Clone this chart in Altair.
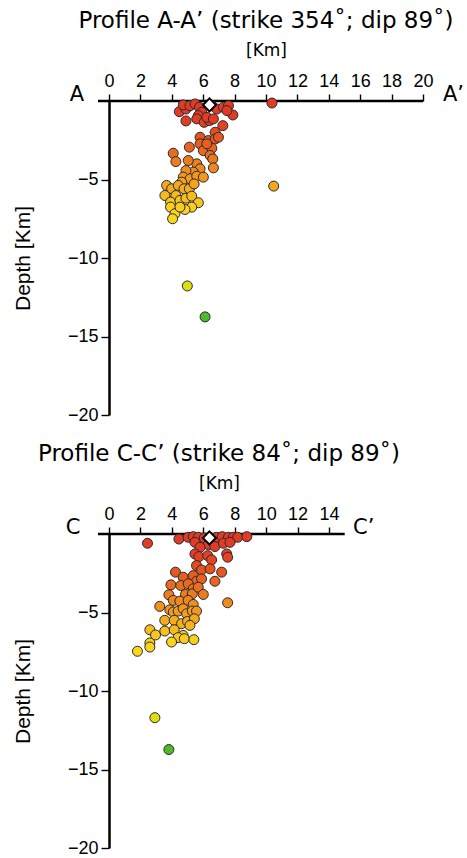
import altair as alt
import pandas as pd

FONT = "Liberation Sans"
WIDE = "DejaVu Sans"

# ---- Profile A-A' (distance along profile [km], depth [km]) ----
a_x = [4.48, 4.90, 4.73, 5.16, 5.48, 5.76, 5.91, 5.69, 6.55, 6.87, 7.29, 7.61, 7.89, 7.51, 10.38,
       4.90, 5.59, 6.06, 6.40, 6.23, 6.65, 7.25, 6.76, 5.80, 6.33, 6.76, 6.97, 5.12, 5.80, 6.01,
       6.55, 6.44, 6.23, 4.09, 4.26, 6.61, 5.59, 5.05, 6.65, 5.80, 5.37, 4.90, 4.73, 5.16, 4.63,
       5.59, 6.01, 10.49, 3.67, 3.99, 4.41, 4.78, 5.12, 4.26, 5.42,
       3.56, 3.92, 4.52, 4.90, 5.27, 5.69, 5.27, 4.84, 3.92, 4.20, 4.05, 4.52,
       4.99, 6.12]
a_depth = [-0.68, -0.51, -0.25, -0.30, -0.19, -0.40, -0.72, -0.93, -0.30, -0.51, -0.40, -0.30, -0.89, -0.61, -0.13,
           -1.27, -1.14, -1.36, -1.25, -1.04, -1.14, -1.57, -1.99, -2.31, -2.52, -2.42, -2.31, -2.94, -2.73, -3.16,
           -3.01, -3.47, -2.73, -3.33, -3.86, -3.69, -4.00, -3.79, -4.26, -4.32, -4.53, -4.43, -4.85, -4.96, -5.17,
           -4.79, -4.85, -5.42, -5.38, -5.59, -5.38, -5.59, -5.59, -6.02, -5.28,
           -6.02, -6.44, -6.33, -6.19, -6.06, -6.48, -6.76, -6.91, -6.76, -7.18, -7.50, -6.76,
           -11.78, -13.75]

# ---- Profile C-C' ----
c_x = [2.45, 4.45, 5.04, 5.36, 5.68, 6.06, 6.85, 7.21, 7.60, 7.91, 8.19, 8.77,
       5.47, 6.32, 6.74, 7.28, 7.70, 5.79, 5.47, 5.72, 6.28, 6.53, 7.49, 7.55,
       5.57, 5.89, 6.43, 4.23, 4.72, 5.36, 5.57, 5.89, 7.17, 6.74,
       3.94, 4.57, 5.04, 5.36, 4.87, 5.30, 5.68, 6.00, 3.81, 4.09, 4.51, 5.04, 5.36, 7.55,
       3.23, 3.87, 4.09, 4.40, 4.72, 4.94, 5.30, 5.57, 3.55, 4.15, 4.62, 5.00, 5.43, 5.15,
       2.60, 2.96, 3.55, 4.15, 4.72, 4.40, 3.98, 4.79, 5.40, 2.60, 2.60, 1.81,
       2.92, 3.81]
c_depth = [-0.59, -0.32, -0.21, -0.17, -0.21, -0.25, -0.21, -0.17, -0.21, -0.21, -0.21, -0.17,
           -0.53, -0.68, -0.80, -0.59, -0.53, -0.85, -1.27, -1.44, -1.38, -1.65, -1.27, -1.48,
           -2.01, -2.29, -2.22, -2.43, -2.75, -2.65, -3.01, -2.86, -2.43, -3.01,
           -3.24, -3.28, -3.17, -3.49, -3.85, -3.81, -3.39, -3.85, -3.87, -4.23, -4.28, -4.23, -4.49, -4.38,
           -4.61, -4.83, -4.97, -4.91, -4.76, -5.08, -4.91, -4.91, -5.50, -5.50, -5.71, -5.57, -5.40, -5.82,
           -6.10, -6.43, -6.18, -6.10, -6.46, -6.60, -6.88, -6.67, -6.73, -6.94, -7.20, -7.47,
           -11.70, -13.73]

# main shock (diamond)
a_main = {"x": [6.4], "depth": [-0.25]}
c_main = {"x": [6.39], "depth": [-0.25]}

depth_domain = [-14, -11.8, -7.0, -5.0, -3.0, -1.2, 0]
depth_colors = ["#3cb42c", "#dedf10", "#f9d61e", "#f29c1f", "#e8641f", "#e03b27", "#e03b27"]

Y_TICKS = [-5, -10, -15, -20]
PX_PER_KM = 15.68


def panel(xs, ds, main, xmax, line_max, xticks, title, lab_l, lab_r, lab_l_dx, lab_r_dx):
    df = pd.DataFrame({"x": xs, "depth": ds})
    width = round(xmax * PX_PER_KM)
    xscale = alt.Scale(domain=[0, xmax], nice=False, zero=False)
    yscale = alt.Scale(domain=[-20, 0], nice=False, zero=False)
    xaxis = alt.Axis(
        orient="top", values=xticks, title="[Km]", domain=False,
        tickSize=7, tickWidth=1.4, tickColor="black",
        labelFontSize=18, labelPadding=4, labelFont=FONT, labelColor="black",
        titleFontSize=17, titleFontWeight="normal", titleFont=WIDE, titleColor="black",
        titlePadding=13, grid=False, labelFlush=False, labelOverlap=False)
    yaxis = alt.Axis(
        values=Y_TICKS, title="Depth [Km]", domain=True, domainWidth=2.5, domainColor="black",
        tickSize=8, tickWidth=1.4, tickColor="black",
        labelFontSize=18, labelPadding=3, labelFont=FONT, labelColor="black",
        titleFontSize=21, titleFontWeight="normal", titleFont=FONT, titleColor="black",
        titlePadding=34, grid=False, labelFlush=False, labelOverlap=False)

    axis_line = alt.Chart(pd.DataFrame({"a": [0]})).mark_rule(
        color="black", strokeWidth=2.5
    ).encode(
        x=alt.datum(-0.7, scale=xscale, axis=xaxis),
        x2=alt.datum(line_max),
        y=alt.datum(0, scale=yscale, axis=yaxis),
    )

    pts = alt.Chart(df).mark_circle(
        size=100, opacity=1, stroke="#2a2a2a", strokeWidth=1
    ).encode(
        x=alt.X("x:Q", scale=xscale, axis=xaxis),
        y=alt.Y("depth:Q", scale=yscale, axis=yaxis),
        fill=alt.Fill("depth:Q", scale=alt.Scale(domain=depth_domain, range=depth_colors,
                                                 interpolate="rgb"), legend=None),
    )

    star = alt.Chart(pd.DataFrame(main)).mark_point(
        shape="diamond", filled=True, fill="white", stroke="black", strokeWidth=2,
        size=170, opacity=1
    ).encode(x=alt.X("x:Q", scale=xscale, axis=xaxis),
             y=alt.Y("depth:Q", scale=yscale, axis=yaxis))

    lab_left = alt.Chart(pd.DataFrame({"t": [lab_l]})).mark_text(
        font=WIDE, fontSize=21, baseline="alphabetic", align="center", color="black"
    ).encode(text="t:N", x=alt.value(lab_l_dx), y=alt.value(0))
    lab_right = alt.Chart(pd.DataFrame({"t": [lab_r]})).mark_text(
        font=WIDE, fontSize=21, baseline="alphabetic", align="left", color="black"
    ).encode(text="t:N", x=alt.value(lab_r_dx), y=alt.value(0))

    return alt.layer(axis_line, pts, star, lab_left, lab_right).properties(
        width=width, height=314,
        title=alt.TitleParams(title, font=WIDE, fontSize=23, fontWeight="normal",
                              anchor="middle", color="black", offset=8),
    )


top = panel(a_x, a_depth, a_main, 20, 20, list(range(0, 21, 2)),
            "Profile A-A\u2019 (strike 354\u02da; dip 89\u02da)", "A", "A\u2019", -32, 334)
bottom = panel(c_x, c_depth, c_main, 14, 15, list(range(0, 15, 2)),
               "Profile C-C\u2019 (strike 84\u02da; dip 89\u02da)", "C", "C\u2019", -36, 244)

chart = alt.vconcat(top, bottom, spacing=19).properties(
    padding={"top": 10, "left": 12, "right": 0, "bottom": 0}
).configure(font=FONT, background="white").configure_view(strokeWidth=0, stroke=None)

chart.save("out.html", embed_options={"renderer": "svg", "actions": False})
